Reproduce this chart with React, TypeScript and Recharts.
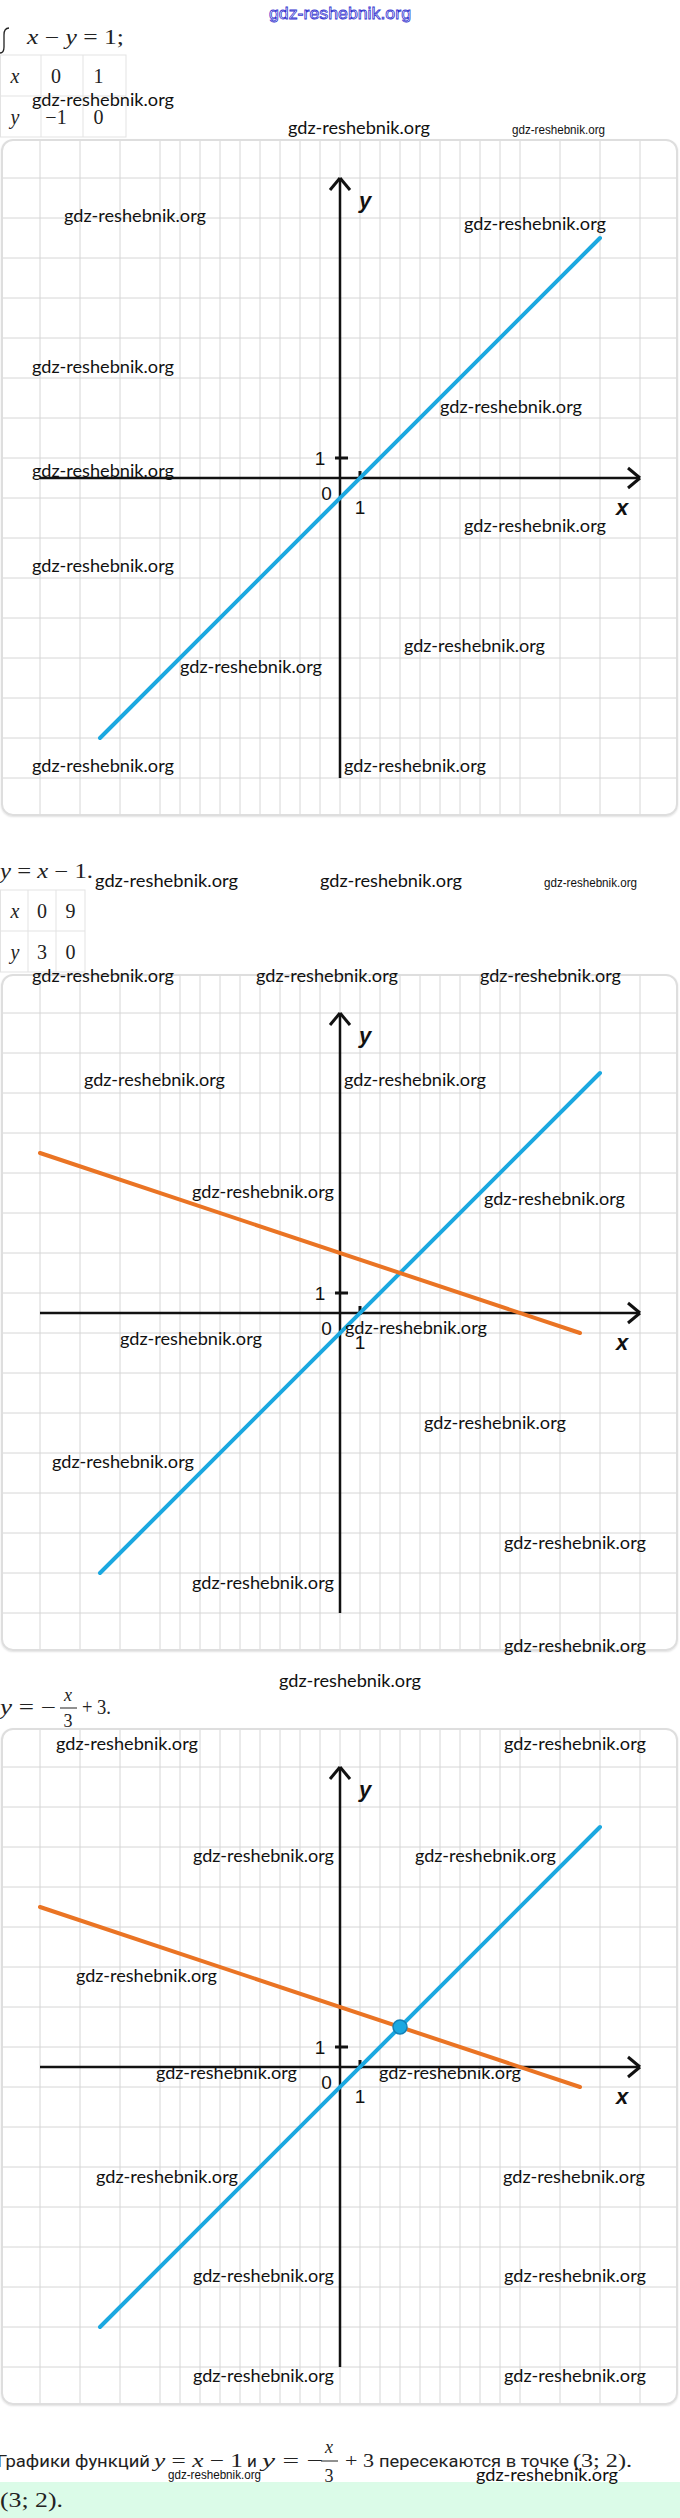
import { LineChart, Line, XAxis, YAxis, CartesianGrid, ReferenceLine, ReferenceDot } from 'recharts'

// y = x - 1
const blueX = [-12, 13]
const blueY = [-13, 12]
// y = -x/3 + 3
const orangeX = [-15, 12]
const orangeY = [8, -1]
// point where they cross
const crossX = 3
const crossY = 2

const table1Head = ['x', '0', '1']
const table1Row = ['y', '−1', '0']
const table2Head = ['x', '0', '9']
const table2Row = ['y', '3', '0']

const gridTicks = Array.from({ length: 35 }, (_, i) => i - 17)
const AXIS = 15

const BLUE = '#1ba8e0'
const ORANGE = '#ea7424'
const INK = '#111'
const WM = 'gdz-reshebnik.org'
const SERIF = '"Liberation Serif", serif'

const blueData = blueX.map((x, i) => ({ x, y: blueY[i] }))
const orangeData = orangeX.map((x, i) => ({ x, y: orangeY[i] }))

const axisLabels = [
  { x: 1.25, y: 13.9, text: 'y', name: true },
  { x: 14.1, y: -1.45, text: 'x', name: true },
  { x: -0.67, y: -0.77, text: '0', name: false },
  { x: 1, y: -1.45, text: '1', name: false },
  { x: -1, y: 0.97, text: '1', name: false },
]

const labelShape = (text: string, name: boolean) => (p: any) => (
  <text
    x={p.cx}
    y={p.cy}
    textAnchor="middle"
    dominantBaseline="central"
    fill={INK}
    fontFamily='"Liberation Sans", Arial, sans-serif'
    fontSize={name ? 22 : 19}
    fontWeight={name ? 700 : 400}
    fontStyle={name ? 'italic' : 'normal'}
  >
    {text}
  </text>
)

function Plane({ top, withOrange, withPoint }: { top: number; withOrange?: boolean; withPoint?: boolean }) {
  const axis = { stroke: INK, strokeWidth: 2.5, ifOverflow: 'visible' as const }
  return (
    <div style={{ position: 'absolute', left: 0, top, width: 680, height: 680 }}>
      <div style={{ position: 'absolute', left: 1, top: 1, width: 677, height: 677, overflow: 'hidden', borderRadius: 12 }}>
        <div style={{ position: 'absolute', left: -1, top: -1 }}>
          <LineChart width={680} height={680} margin={{ top: 0, right: 0, bottom: 0, left: 0 }}>
            <CartesianGrid stroke="#d6d6d6" strokeWidth={1} />
            <XAxis type="number" dataKey="x" domain={[-17, 17]} ticks={gridTicks} hide allowDataOverflow />
            <YAxis type="number" dataKey="y" domain={[-17, 17]} ticks={gridTicks} hide allowDataOverflow />
            <ReferenceLine segment={[{ x: -AXIS, y: 0 }, { x: AXIS, y: 0 }]} {...axis} />
            <ReferenceLine segment={[{ x: AXIS - 0.6, y: 0.5 }, { x: AXIS, y: 0 }]} {...axis} strokeWidth={3} />
            <ReferenceLine segment={[{ x: AXIS - 0.6, y: -0.5 }, { x: AXIS, y: 0 }]} {...axis} strokeWidth={3} />
            <ReferenceLine segment={[{ x: 0, y: -AXIS }, { x: 0, y: AXIS }]} {...axis} />
            <ReferenceLine segment={[{ x: -0.5, y: AXIS - 0.6 }, { x: 0, y: AXIS }]} {...axis} strokeWidth={3} />
            <ReferenceLine segment={[{ x: 0.5, y: AXIS - 0.6 }, { x: 0, y: AXIS }]} {...axis} strokeWidth={3} />
            <ReferenceLine segment={[{ x: 1, y: -0.1 }, { x: 1, y: 0.35 }]} {...axis} strokeWidth={3} />
            <ReferenceLine segment={[{ x: -0.25, y: 1 }, { x: 0.4, y: 1 }]} {...axis} strokeWidth={3} />
            {axisLabels.map((l, i) => (
              <ReferenceDot key={i} x={l.x} y={l.y} r={1} ifOverflow="visible" shape={labelShape(l.text, l.name)} />
            ))}
            <Line data={blueData} dataKey="y" stroke={BLUE} strokeWidth={4} dot={false} strokeLinecap="round" isAnimationActive={false} />
            {withOrange && (
              <Line data={orangeData} dataKey="y" stroke={ORANGE} strokeWidth={4} dot={false} strokeLinecap="round" isAnimationActive={false} />
            )}
            {withPoint && <ReferenceDot x={crossX} y={crossY} r={7} fill={BLUE} stroke="#1380b6" strokeWidth={1.5} />}
          </LineChart>
        </div>
      </div>
      <div
        style={{
          position: 'absolute', left: 1, top: 1, width: 677, height: 677, boxSizing: 'border-box',
          border: '2px solid #dedede', borderRadius: 12, boxShadow: '0 1px 2px rgba(0,0,0,0.12)',
        }}
      />
    </div>
  )
}

// watermark placement: [left, right, middle y]
const wmBig: number[][] = [
  [32, 174, 101], [288, 430, 129],
  [64, 206, 217], [464, 606, 225], [32, 174, 368], [440, 582, 408], [32, 174, 472], [464, 606, 527],
  [32, 174, 567], [404, 545, 647], [180, 322, 668], [32, 174, 767], [344, 486, 767],
  [95, 238, 882], [320, 462, 882],
  [32, 174, 977], [256, 398, 977], [480, 621, 977],
  [84, 225, 1081], [344, 486, 1081], [192, 334, 1193], [484, 625, 1200], [345, 487, 1329], [120, 262, 1340],
  [424, 566, 1424], [52, 194, 1463], [504, 646, 1544], [192, 334, 1584], [504, 646, 1647],
  [279, 421, 1682],
  [56, 198, 1745], [504, 646, 1745], [193, 334, 1857], [415, 556, 1857], [76, 217, 1977], [156, 297, 2074],
  [379, 521, 2074], [96, 238, 2178], [503, 645, 2178], [193, 334, 2277], [504, 646, 2277], [193, 334, 2377],
  [504, 646, 2377],
  [476, 618, 2476],
]
const wmSmall: number[][] = [[512, 605, 130], [544, 637, 883], [168, 261, 2475]]

function Table({ top, cols, head, row }: { top: number; cols: number[]; head: string[]; row: string[] }) {
  const h = 41
  const line = '#e3e3e3'
  return (
    <g>
      <rect x={0.5} y={top} width={cols[cols.length - 1] - 0.5} height={h * 2} fill="none" stroke={line} />
      <line x1={0} x2={cols[cols.length - 1]} y1={top + h} y2={top + h} stroke={line} />
      {cols.slice(0, -1).map((c) => (
        <line key={c} x1={c} x2={c} y1={top} y2={top + h * 2} stroke={line} />
      ))}
      {[head, row].map((r, ri) =>
        r.map((t, ci) => {
          const left = ci === 0 ? 0 : cols[ci - 1]
          return (
            <text
              key={`${ri}-${ci}`}
              x={ci === 0 ? 15 : left + (cols[ci] - left) / 2 - (cols[0] > 35 ? 6 : 0)}
              y={top + h * ri + h / 2 + 7}
              textAnchor="middle"
              fontFamily={SERIF}
              fontSize={20}
              fontStyle={ci === 0 ? 'italic' : 'normal'}
              fill="#222"
            >
              {t}
            </text>
          )
        })
      )}
    </g>
  )
}

export default function App() {
  const serif = { fontFamily: SERIF, fontSize: 20, fill: '#222' }
  const body = { fontFamily: 'Roboto, sans-serif', fontSize: 17, fill: '#222' }
  return (
    <div style={{ position: 'absolute', left: 0, top: 0, width: 680, height: 2518, background: '#fff', overflow: 'hidden' }}>
      <div style={{ position: 'absolute', left: 0, top: 2482, width: 680, height: 36, background: '#dbfbe8' }} />
      <Plane top={138} />
      <Plane top={973} withOrange />
      <Plane top={1727} withOrange withPoint />
      <svg width={680} height={2518} style={{ position: 'absolute', left: 0, top: 0, pointerEvents: 'none' }}>
        <text x={269} y={19} textLength={142} lengthAdjust="spacingAndGlyphs" fontFamily='"Liberation Sans", sans-serif'
          fontSize={17} fill="#fff" stroke="#3535d0" strokeWidth={0.8}>
          {WM}
        </text>

        <path d="M 9 28 C 5 28 4 31 4 35 L 4 47 C 4 51 2 53 0 53" fill="none" stroke="#222" strokeWidth={1.3} />
        <text x={27} y={44} textLength={97} lengthAdjust="spacingAndGlyphs" {...serif}>
          <tspan fontStyle="italic">x</tspan> − <tspan fontStyle="italic">y</tspan> = 1;
        </text>
        <Table top={55} cols={[41, 83, 126]} head={table1Head} row={table1Row} />

        <text x={0} y={878} textLength={93} lengthAdjust="spacingAndGlyphs" {...serif}>
          <tspan fontStyle="italic">y</tspan> = <tspan fontStyle="italic">x</tspan> − 1.
        </text>
        <Table top={890} cols={[28, 56, 85]} head={table2Head} row={table2Row} />

        <text x={0} y={1714} textLength={56} lengthAdjust="spacingAndGlyphs" {...serif}>
          <tspan fontStyle="italic">y</tspan> = −
        </text>
        <text x={68} y={1701} textAnchor="middle" {...serif} fontSize={18} fontStyle="italic">x</text>
        <line x1={60} x2={77} y1={1708} y2={1708} stroke="#222" strokeWidth={1} />
        <text x={68} y={1727} textAnchor="middle" {...serif} fontSize={18}>3</text>
        <text x={82} y={1714} textLength={29} lengthAdjust="spacingAndGlyphs" {...serif}>+ 3.</text>

        <text x={-3} y={2467} textLength={153} lengthAdjust="spacingAndGlyphs" {...body}>Графики функций</text>
        <text x={154} y={2467} textLength={89} lengthAdjust="spacingAndGlyphs" {...serif} fontSize={19}>
          <tspan fontStyle="italic">y</tspan> = <tspan fontStyle="italic">x</tspan> − 1
        </text>
        <text x={247} y={2467} {...body}>и</text>
        <text x={262} y={2467} textLength={61} lengthAdjust="spacingAndGlyphs" {...serif} fontSize={19}>
          <tspan fontStyle="italic">y</tspan> = −
        </text>
        <text x={329} y={2453} textAnchor="middle" {...serif} fontSize={18} fontStyle="italic">x</text>
        <line x1={321} x2={338} y1={2461} y2={2461} stroke="#222" strokeWidth={1} />
        <text x={329} y={2482} textAnchor="middle" {...serif} fontSize={18}>3</text>
        <text x={345} y={2467} textLength={29} lengthAdjust="spacingAndGlyphs" {...serif} fontSize={19}>+ 3</text>
        <text x={379} y={2467} textLength={190} lengthAdjust="spacingAndGlyphs" {...body}>пересекаются в точке</text>
        <text x={573} y={2467} textLength={59} lengthAdjust="spacingAndGlyphs" {...serif} fontSize={19}>(3; 2).</text>

        <text x={0} y={2507} textLength={63} lengthAdjust="spacingAndGlyphs" {...serif} fontSize={22}>(3; 2).</text>

        {wmBig.map(([a, b, y], i) => (
          <text key={`b${i}`} x={a} y={y + 5} textLength={b - a} lengthAdjust="spacingAndGlyphs"
            fontFamily="Lato, sans-serif" fontSize={18} fill={INK}>
            {WM}
          </text>
        ))}
        {wmSmall.map(([a, b, y], i) => (
          <text key={`s${i}`} x={a} y={y + 4} textLength={b - a} lengthAdjust="spacingAndGlyphs"
            fontFamily='"Liberation Sans", sans-serif' fontSize={13} fill={INK}>
            {WM}
          </text>
        ))}
      </svg>
    </div>
  )
}
